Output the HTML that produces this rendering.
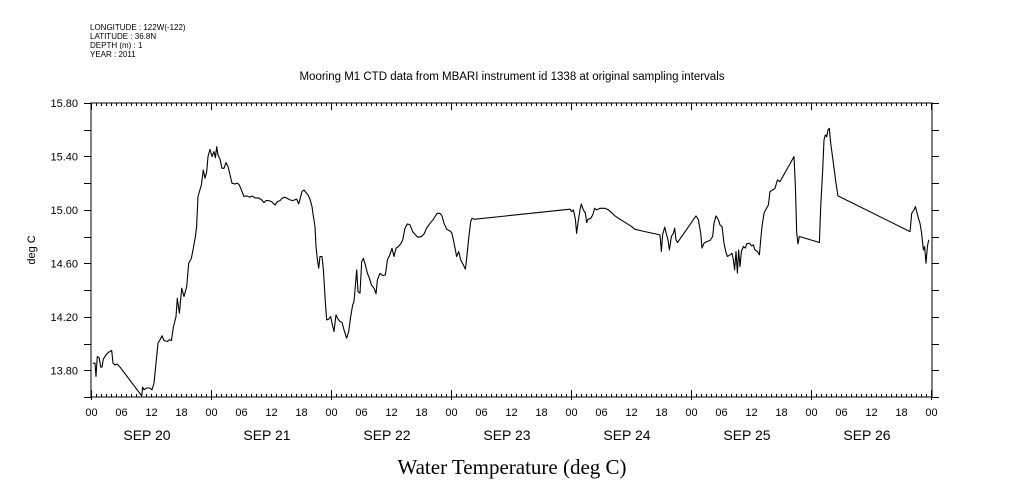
<!DOCTYPE html>
<html><head><meta charset="utf-8"><style>
body{margin:0;background:#fff;}
svg{display:block;font-family:"Liberation Sans",sans-serif;}
</style></head><body>
<svg id="chart" width="1009" height="504" viewBox="0 0 1009 504">
<g font-size="8" fill="#000">
<text x="90" y="30">LONGITUDE : 122W(-122)</text>
<text x="90" y="39">LATITUDE : 36.8N</text>
<text x="90" y="48">DEPTH (m) : 1</text>
<text x="90" y="57">YEAR : 2011</text>
</g>
<text x="512" y="80" text-anchor="middle" font-size="11.5">Mooring M1 CTD data from MBARI instrument id 1338 at original sampling intervals</text>
<text transform="translate(35,250) rotate(-90)" text-anchor="middle" font-size="11">deg C</text>
<text x="512" y="474" text-anchor="middle" font-size="21" font-family="'Liberation Serif',serif">Water Temperature (deg C)</text>
<rect x="91" y="103" width="841" height="294" fill="none" stroke="#000" stroke-width="1"/>
<g id="ticks"></g>
<g id="labels" font-size="11"></g>
<path id="line" fill="none" stroke="#000" stroke-width="1.1" stroke-linejoin="round"/>
</svg>
<script>
const hours=[0.33,0.8,1.0,1.27,1.67,1.93,2.2,2.47,3.0,3.47,3.8,4.13,4.4,4.8,5.27,5.8,10.13,10.33,10.6,11.13,11.8,12.2,12.6,13.0,13.4,13.8,14.2,14.6,15.27,15.67,16.07,16.47,17.0,17.27,17.67,18.13,18.6,19.13,19.53,20.07,20.47,20.87,21.13,21.4,21.67,22.07,22.47,22.8,23.13,23.4,23.8,24.2,24.6,24.87,25.13,25.4,25.8,26.2,26.6,27.0,27.4,27.8,28.2,28.8,29.27,29.67,30.2,30.6,31.13,31.8,32.2,32.8,33.47,34.13,34.6,35.0,35.53,36.13,36.8,37.27,37.8,38.2,38.8,39.27,39.8,40.33,40.73,41.13,41.53,41.8,42.2,42.6,43.0,43.4,43.8,44.2,44.47,44.8,45.0,45.27,45.53,45.8,46.2,46.47,46.87,47.13,47.53,47.93,48.2,48.6,49.0,49.4,49.8,50.2,50.6,51.13,51.53,51.93,52.33,52.6,52.87,53.13,53.4,53.8,54.13,54.47,54.87,55.27,55.67,56.07,56.6,57.0,57.27,57.8,58.33,58.87,59.27,59.67,60.2,60.6,61.0,61.47,61.93,62.33,62.8,63.27,63.8,64.33,64.87,65.4,66.07,66.6,67.13,67.8,68.47,68.87,69.27,69.8,70.2,70.6,71.13,71.67,72.13,72.47,72.87,73.13,73.53,73.93,74.47,74.87,75.13,75.53,75.93,76.2,76.6,95.8,96.13,96.47,96.87,97.13,97.47,97.8,98.07,98.47,98.87,99.13,99.4,99.93,100.33,100.73,101.13,101.8,102.8,103.47,104.13,104.8,105.8,107.13,108.13,108.8,109.8,111.13,113.8,114.07,114.33,114.73,115.13,115.4,115.67,116.07,116.47,116.73,117.0,117.27,117.67,121.0,121.47,121.93,122.2,122.6,123.13,123.8,124.33,124.6,125.0,125.47,125.8,126.2,126.6,127.0,127.27,127.8,128.2,128.47,128.73,129.0,129.27,129.53,129.8,130.07,130.47,130.87,131.13,131.67,132.13,132.47,132.8,133.27,133.67,133.93,134.2,134.6,135.0,135.47,135.8,136.33,136.8,137.27,137.8,140.6,140.87,141.13,141.4,141.67,145.67,145.93,146.33,146.6,146.87,147.13,147.4,147.67,147.93,148.47,149.0,149.4,163.8,164.13,164.6,164.87,165.13,165.47,165.8,166.13,166.47,166.73,167.0,167.27,167.53];
const temps=[13.853,13.853,13.754,13.903,13.891,13.824,13.824,13.883,13.916,13.933,13.941,13.948,13.853,13.841,13.846,13.824,13.609,13.674,13.654,13.667,13.667,13.654,13.704,13.853,14.003,14.028,14.058,14.023,14.015,14.028,14.023,14.123,14.202,14.339,14.227,14.414,14.352,14.427,14.601,14.639,14.713,14.8,14.875,15.1,15.137,15.187,15.299,15.237,15.286,15.399,15.453,15.399,15.436,15.391,15.473,15.411,15.379,15.311,15.311,15.354,15.324,15.262,15.2,15.194,15.2,15.187,15.137,15.1,15.105,15.095,15.105,15.09,15.09,15.075,15.055,15.07,15.07,15.062,15.037,15.062,15.07,15.087,15.095,15.085,15.075,15.07,15.075,15.08,15.045,15.08,15.137,15.149,15.13,15.112,15.08,15.025,14.95,14.875,14.726,14.626,14.564,14.651,14.651,14.551,14.302,14.177,14.182,14.202,14.152,14.09,14.215,14.182,14.165,14.158,14.102,14.04,14.09,14.202,14.29,14.315,14.427,14.551,14.389,14.377,14.613,14.638,14.588,14.526,14.489,14.439,14.414,14.372,14.476,14.526,14.509,14.514,14.626,14.656,14.713,14.651,14.713,14.726,14.746,14.775,14.863,14.895,14.888,14.838,14.813,14.795,14.8,14.82,14.863,14.9,14.93,14.955,14.975,14.975,14.955,14.9,14.855,14.845,14.83,14.775,14.701,14.651,14.688,14.626,14.588,14.556,14.638,14.788,14.913,14.937,14.93,15.005,14.987,15.0,14.93,14.825,14.925,15.0,15.044,15.0,14.975,14.905,14.93,14.937,14.962,15.012,15.0,15.012,15.012,15.0,14.98,14.955,14.93,14.9,14.875,14.855,14.846,14.835,14.813,14.689,14.813,14.871,14.813,14.776,14.701,14.801,14.826,14.863,14.776,14.756,14.776,14.955,14.925,14.826,14.714,14.751,14.763,14.771,14.801,14.9,14.955,14.925,14.888,14.876,14.751,14.681,14.651,14.664,14.676,14.626,14.552,14.689,14.527,14.701,14.576,14.689,14.726,14.714,14.746,14.751,14.731,14.738,14.701,14.689,14.664,14.776,14.876,14.975,15.005,15.037,15.137,15.15,15.162,15.224,15.212,15.399,15.175,14.826,14.746,14.801,14.756,15.025,15.299,15.523,15.561,15.548,15.598,15.611,15.499,15.349,15.2,15.105,14.838,14.975,15.0,15.025,14.988,14.938,14.9,14.826,14.701,14.726,14.601,14.726,14.776];
const yTickValues=[13.6,13.8,14.0,14.2,14.4,14.6,14.8,15.0,15.2,15.4,15.6,15.8];
const yLabelValues=[13.8,14.2,14.6,15.0,15.4,15.8];
const xHourLabels=["00","06","12","18"];
const dayLabels=["SEP 20","SEP 21","SEP 22","SEP 23","SEP 24","SEP 25","SEP 26"];
const X0=91,X1=932,Y0=103,Y1=397,HMAX=168.2,VMIN=13.6,VMAX=15.8;
const xs=h=>X0+h/HMAX*(X1-X0);
const ys=v=>Y1-(v-VMIN)/(VMAX-VMIN)*(Y1-Y0);
const NS="http://www.w3.org/2000/svg";
const tk=document.getElementById('ticks'),lb=document.getElementById('labels');
function line(x1,y1,x2,y2){const l=document.createElementNS(NS,'line');l.setAttribute('x1',x1);l.setAttribute('y1',y1);l.setAttribute('x2',x2);l.setAttribute('y2',y2);l.setAttribute('stroke','#000');l.setAttribute('stroke-width','1');


tk.appendChild(l);}
function text(x,y,s,anchor,size){const t=document.createElementNS(NS,'text');t.setAttribute('x',x);t.setAttribute('y',y);t.setAttribute('text-anchor',anchor);if(size)t.setAttribute('font-size',size);t.textContent=s;


lb.appendChild(t);}
for(let h=0;h<=168;h++){const x=Math.round(xs(h))+0.5;const len=h%24===0?7:3;line(x,Y0,x,Y0+len);line(x,Y1,x,Y1-len);if(h%24===0){line(x,Y1,x,Y1+3);}
if(h%6===0)text(x,416,xHourLabels[(h/6)%4],'middle');}
dayLabels.forEach((d,i)=>text(xs(i*24+12)-4,440,d,'middle',14));
yTickValues.forEach(v=>{const y=Math.round(ys(v))+0.5;line(X0-7,y,X0,y);line(X1,y,X1+7,y);});
yLabelValues.forEach(v=>text(78,ys(v)+4,v.toFixed(2),'end'));
let d='';hours.forEach((h,i)=>{d+=(i?'L':'M')+xs(h).toFixed(1)+' '+ys(temps[i]).toFixed(1);});
document.getElementById('line').setAttribute('d',d);
</script>
</body></html>
